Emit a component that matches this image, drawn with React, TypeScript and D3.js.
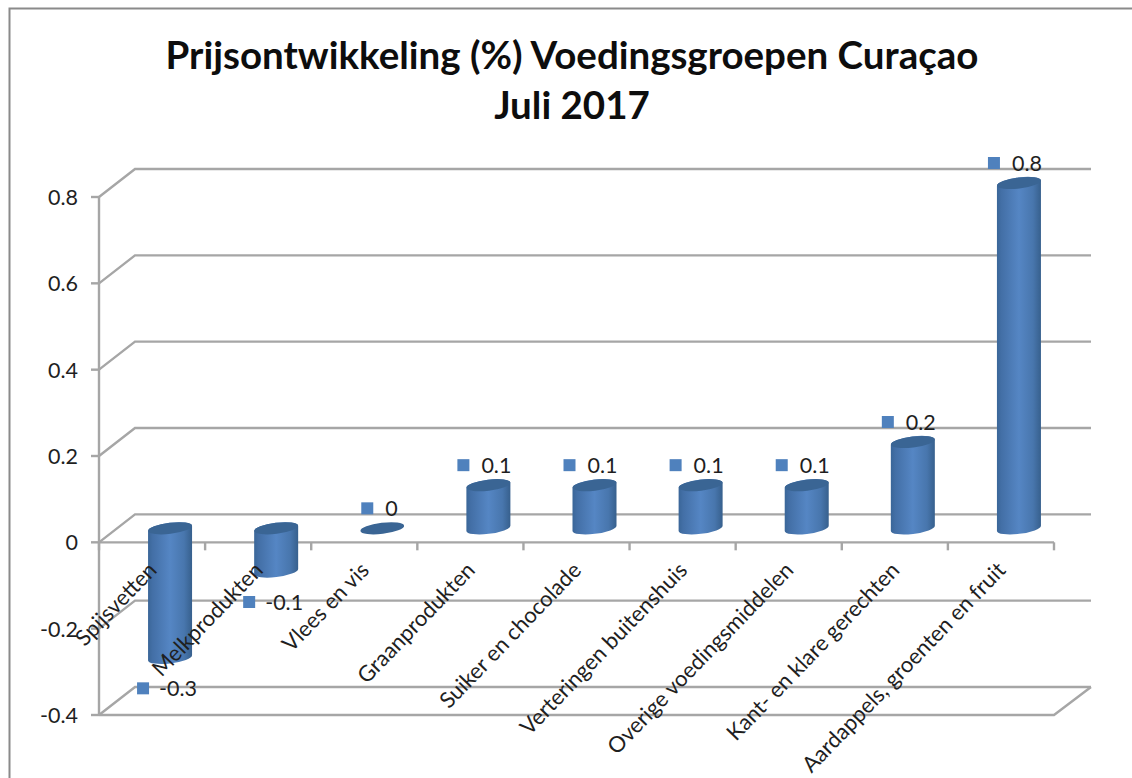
import * as d3 from 'd3';

const categories = [
  'Spijsvetten',
  'Melkprodukten',
  'Vlees en vis',
  'Graanprodukten',
  'Suiker en chocolade',
  'Verteringen buitenshuis',
  'Overige voedingsmiddelen',
  'Kant- en klare gerechten',
  'Aardappels, groenten en fruit',
];
const values = [-0.3, -0.1, 0, 0.1, 0.1, 0.1, 0.1, 0.2, 0.8];
const yTicks = [-0.4, -0.2, 0, 0.2, 0.4, 0.6, 0.8];
const titleLines = ['Prijsontwikkeling (%) Voedingsgroepen Curaçao', 'Juli 2017'];

const FONT = 'Lato, "Open Sans", sans-serif';
const GRID = '#a6a6a6';
const TEXT = '#1f1f1f';

// 3D wall offset
const depthX = 36;
const depthY = -28;

const x = d3.scaleBand<string>().domain(categories).range([99, 1054]);
const y = d3.scaleLinear().domain([-0.4, 0.8]).range([715, 197]);

const radius = 22;
const ellipseRy = 5.5;
const tilt = 2.6; // the ellipses lean up to the right

function cylinderPath(cx: number, yTop: number, yBottom: number) {
  return [
    `M${cx - radius},${yTop + tilt}`,
    `L${cx - radius},${yBottom + tilt}`,
    `A${radius},${ellipseRy} -7 0 0 ${cx + radius},${yBottom - tilt}`,
    `L${cx + radius},${yTop - tilt}`,
    `A${radius},${ellipseRy} -7 0 0 ${cx - radius},${yTop + tilt}`,
    'Z',
  ].join(' ');
}

export default function App() {
  const y0 = y(0) + depthY / 2;
  const tickEdges = [...categories.map((c) => x(c) as number), 1054];

  return (
    <svg
      width={1132}
      height={778}
      style={{ position: 'absolute', left: 0, top: 0, background: '#fff' }}
      fontFamily={FONT}
    >
      <defs>
        <linearGradient id="cyl" x1="0" x2="1" y1="0" y2="0">
          <stop offset="0" stopColor="#3a6698" />
          <stop offset="0.1" stopColor="#436fa6" />
          <stop offset="0.5" stopColor="#5586c4" />
          <stop offset="0.82" stopColor="#4876ad" />
          <stop offset="1" stopColor="#37608d" />
        </linearGradient>
      </defs>

      {/* chart frame */}
      <path d="M9.5,778 L9.5,8.5 L1132,8.5" fill="none" stroke="#8a8a8a" strokeWidth={2} />

      {/* title */}
      <text textAnchor="middle" fontWeight={700} fontSize={38.5} fill="#0d0d0d">
        <tspan x={572} y={69}>{titleLines[0]}</tspan>
        <tspan x={572} y={119}>{titleLines[1]}</tspan>
      </text>

      {/* back wall gridlines */}
      <g fill="none" stroke={GRID} strokeWidth={2.4}>
        {yTicks.map((t) => (
          <path
            key={t}
            d={`M${99},${y(t)} L${99 + depthX},${y(t) + depthY} L${1054 + depthX + 1},${y(t) + depthY}`}
          />
        ))}
        {/* floor */}
        <path d={`M99,${y(-0.4)} L1054,${y(-0.4)} L${1054 + depthX + 1},${y(-0.4) + depthY}`} />
        {/* value axis */}
        <line x1={99} x2={99} y1={y(0.8)} y2={y(-0.4)} />
        {yTicks.map((t) => (
          <line key={t} x1={91} x2={99} y1={y(t)} y2={y(t)} />
        ))}
        {/* category axis */}
        <line x1={99} x2={1054} y1={y(0)} y2={y(0)} />
        {tickEdges.map((e) => (
          <line key={e} x1={e} x2={e} y1={y(0)} y2={y(0) + 8} />
        ))}
      </g>

      {/* value axis labels */}
      <g textAnchor="end" fontSize={21.5} fill={TEXT}>
        {yTicks.map((t) => (
          <text key={t} x={78} y={y(t) + 8}>
            {t === 0 ? '0' : t.toFixed(1)}
          </text>
        ))}
      </g>

      {/* cylinders */}
      {categories.map((c, i) => {
        const cx = (x(c) as number) + x.bandwidth() / 2 + depthX / 2;
        const yv = y0 + (y(values[i]) - y(0));
        const top = Math.min(yv, y0);
        const bottom = Math.max(yv, y0);
        return (
          <g key={c}>
            {values[i] !== 0 && <path d={cylinderPath(cx, top, bottom)} fill="url(#cyl)" />}
            <ellipse
              cx={cx}
              cy={top}
              rx={radius}
              ry={ellipseRy}
              transform={`rotate(-7 ${cx} ${top})`}
              fill="#3a6594"
            />
          </g>
        );
      })}

      {/* data labels */}
      {categories.map((c, i) => {
        const cx = (x(c) as number) + x.bandwidth() / 2 + depthX / 2;
        const yv = y0 + (y(values[i]) - y(0));
        const ly = values[i] < 0 ? yv + 30.5 : yv - 20;
        const mx = values[i] === 0 ? cx - 15 : values[i] < 0 ? cx - 27 : cx - 25;
        return (
          <g key={c}>
            <rect x={mx - 6} y={ly - 6} width={12} height={12} fill="#4f81bd" />
            <text x={values[i] < 0 ? mx + 16 : mx + 18} y={ly + 8} fontSize={21.5} fill={TEXT}>
              {values[i]}
            </text>
          </g>
        );
      })}

      {/* category labels */}
      <g textAnchor="end" fontSize={22} fill={TEXT}>
        {categories.map((c) => {
          const lx = (x(c) as number) + x.bandwidth() / 2 + 6;
          return (
            <text key={c} transform={`translate(${lx},${y(0) + 29}) rotate(-46)`}>
              {c}
            </text>
          );
        })}
      </g>
    </svg>
  );
}
